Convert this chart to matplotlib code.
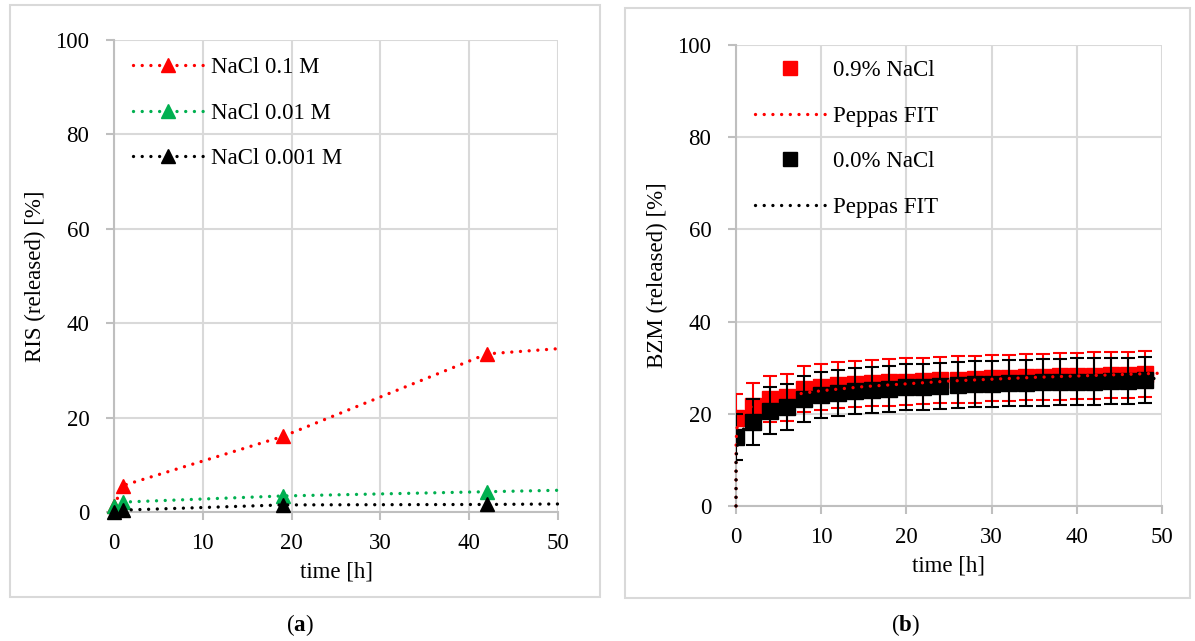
import matplotlib
matplotlib.use("Agg")
import matplotlib.pyplot as plt
from matplotlib.patches import Rectangle

plt.rcParams["font.family"] = ["Liberation Serif", "DejaVu Serif"]
plt.rcParams["mathtext.fontset"] = "custom"
plt.rcParams["mathtext.rm"] = "Liberation Serif"
plt.rcParams["mathtext.bf"] = "Liberation Serif:bold"

# ---- panel (a): RIS release ----
ris_time = [0, 1, 19, 42, 50]
ris_01 = [1.2, 5.6, 16.0, 33.5, 34.6]
ris_001 = [1.2, 2.1, 3.4, 4.3, 4.6]
ris_0001 = [0.0, 0.4, 1.5, 1.6, 1.7]
ris_labels = ["NaCl 0.1 M", "NaCl 0.01 M", "NaCl 0.001 M"]
ris_colors = ["#ff0000", "#00b050", "#000000"]

# ---- panel (b): BZM release ----
bzm_time = [0, 2, 4, 6, 8, 10, 12, 14, 16, 18, 20, 22, 24,
            26, 28, 30, 32, 34, 36, 38, 40, 42, 44, 46, 48]
bzm_09 = [19.1, 21.7, 23.3, 23.6, 25.3, 25.8, 26.2, 26.5, 26.6, 26.8, 27.0, 27.2, 27.3,
          27.4, 27.5, 27.7, 27.8, 27.9, 28.0, 28.1, 28.2, 28.3, 28.4, 28.5, 28.6]
bzm_09_err = [5.1, 4.9, 5.0, 5.1, 5.0, 5.0, 5.0, 5.0, 5.0, 5.0, 5.0, 5.0, 5.0,
              5.1, 5.1, 5.0, 5.0, 5.0, 5.0, 5.0, 5.0, 5.0, 5.0, 5.0, 5.0]
bzm_00 = [15.0, 18.2, 20.7, 21.4, 23.3, 24.0, 24.5, 24.9, 25.2, 25.4, 25.8, 25.9, 26.1,
          26.3, 26.4, 26.5, 26.6, 26.7, 26.8, 26.9, 27.0, 27.0, 27.1, 27.2, 27.3]
bzm_00_err = [5.0, 5.0, 5.1, 5.0, 5.0, 5.0, 5.0, 5.0, 5.0, 5.0, 5.0, 5.0, 5.0,
              5.0, 5.0, 5.0, 5.0, 5.0, 5.0, 5.0, 5.0, 5.0, 5.0, 5.0, 5.0]

fit_time = [0, 0.01, 0.1, 0.5, 1, 2, 4, 6, 8, 10, 15, 20, 25, 30, 35, 40, 45, 49.7]
fit_09 = [0, 13.8, 16.8, 19.3, 20.5, 21.8, 23.1, 23.9, 24.5, 25.0, 25.9, 26.5,
          27.1, 27.5, 27.9, 28.2, 28.5, 28.8]
fit_00 = [0, 9.8, 12.7, 15.6, 17.0, 18.5, 20.2, 21.2, 22.0, 22.7, 23.9, 24.7,
          25.4, 26.0, 26.5, 27.0, 27.4, 27.7]

GRID = "#d9d9d9"
FS = 16.5
DOTS = (0, (0.01, 2.6))

fig = plt.figure(figsize=(11.95, 6.41), dpi=100)

# chart area borders
fig.patches.append(Rectangle((10 / 1195, 44 / 641), 590 / 1195, 592 / 641,
                             transform=fig.transFigure, fill=False,
                             edgecolor=GRID, linewidth=1.5))
fig.patches.append(Rectangle((625 / 1195, 43 / 641), 565 / 1195, 590 / 641,
                             transform=fig.transFigure, fill=False,
                             edgecolor=GRID, linewidth=1.5))


def style_axes(ax, ylabel):
    ax.set_xlim(0, 50)
    ax.set_ylim(0, 100)
    ax.set_xticks(range(0, 51, 10))
    ax.set_yticks(range(0, 101, 20))
    ax.grid(True, color=GRID, linewidth=1.5)
    ax.set_axisbelow(True)
    for s in ["top", "right"]:
        ax.spines[s].set_visible(False)
    for s in ["left", "bottom"]:
        ax.spines[s].set_color("#bfbfbf")
        ax.spines[s].set_linewidth(1.5)
    ax.tick_params(axis="both", colors="#bfbfbf", length=5.8, width=1.5,
                   labelsize=FS, labelcolor="black")
    ax.tick_params(axis="y", pad=12)
    ax.tick_params(axis="x", pad=9)
    ax.set_xlabel("time [h]", fontsize=FS, labelpad=6)
    ax.set_ylabel(ylabel, fontsize=FS, labelpad=7)


# (a)
ax1 = fig.add_axes([114 / 1195, 129 / 641, 444 / 1195, 472 / 641])
style_axes(ax1, "RIS (released) [%]")
for vals, lab, col in zip([ris_01, ris_001, ris_0001], ris_labels, ris_colors):
    ax1.plot(ris_time, vals, linestyle=DOTS, linewidth=2.4, color=col,
             dash_capstyle="round", marker="^", markersize=10,
             markevery=[0, 1, 2, 3], label=lab, clip_on=False, zorder=3)
ax1.legend(loc="upper left", bbox_to_anchor=(0.042, 0.964), frameon=False,
           fontsize=FS, handlelength=3.05, handletextpad=0.35,
           labelspacing=1.07, borderpad=0, borderaxespad=0)

# (b)
ax2 = fig.add_axes([736 / 1195, 135 / 641, 426 / 1195, 461 / 641])
style_axes(ax2, "BZM (released) [%]")
ax2.errorbar(bzm_time, bzm_09, yerr=bzm_09_err, fmt="none", ecolor="#ff0000",
             elinewidth=1.5, capsize=5, capthick=1.5, zorder=3)
h_09, = ax2.plot(bzm_time, bzm_09, "s", color="#ff0000", markersize=11.5, zorder=4)
ax2.errorbar(bzm_time, bzm_00, yerr=bzm_00_err, fmt="none", ecolor="black",
             elinewidth=1.5, capsize=5, capthick=1.5, zorder=5)
h_00, = ax2.plot(bzm_time, bzm_00, "s", color="black", markersize=11.5, zorder=6)
f_09, = ax2.plot(fit_time, fit_09, linestyle=DOTS, linewidth=2.4, color="#ff0000",
                 dash_capstyle="round", zorder=7, clip_on=False)
f_00, = ax2.plot(fit_time, fit_00, linestyle=DOTS, linewidth=2.4, color="black",
                 dash_capstyle="round", zorder=8, clip_on=False)
ax2.legend([h_09, f_09, h_00, f_00],
           ["0.9% NaCl", "Peppas FIT", "0.0% NaCl", "Peppas FIT"],
           loc="upper left", bbox_to_anchor=(0.045, 0.967), frameon=False,
           fontsize=FS, handlelength=3.05, handletextpad=0.35,
           labelspacing=1.07, borderpad=0, borderaxespad=0, markerscale=0.9)

# captions
fig.text(300 / 1195, 16 / 641, r"($\mathbf{a}$)", ha="center", va="center", fontsize=FS)
fig.text(905 / 1195, 16 / 641, r"($\mathbf{b}$)", ha="center", va="center", fontsize=FS)

plt.savefig("out.png", dpi=100)
plt.close(fig)
